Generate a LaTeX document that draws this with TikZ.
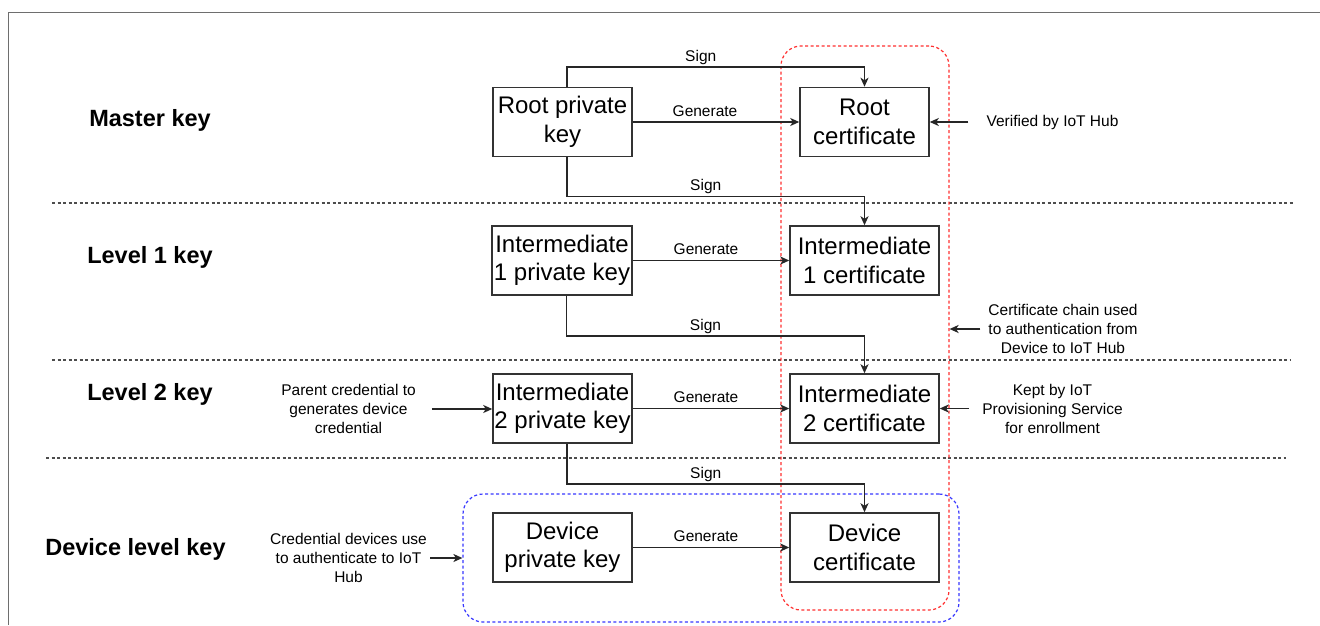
\documentclass[tikz,border=0pt]{standalone}
\usepackage{fontspec}
\setmainfont{Liberation Sans}
\usetikzlibrary{arrows.meta}
\definecolor{boxline}{HTML}{333333}
\definecolor{arrline}{HTML}{262626}
\definecolor{sepline}{HTML}{4D4D4D}
\definecolor{framegray}{HTML}{6E6E6E}
\definecolor{chainred}{HTML}{FF3030}
\definecolor{devblue}{HTML}{3838FF}
\begin{document}
\begin{tikzpicture}[x=1pt,y=-1pt,
  keybox/.style={draw=boxline, line width=1.5pt, fill=white, minimum height=69pt,
    align=center, inner sep=0pt, font=\fontsize{24}{28.5}\selectfont},
  head/.style={font=\fontsize{23.5}{28}\selectfont\bfseries, inner sep=0pt},
  lbl/.style={font=\fontsize{15.5}{19}\selectfont, inner sep=1.5pt, text height=11pt, text depth=3.5pt},
  note/.style={font=\fontsize{15.5}{19}\selectfont, align=center, inner ysep=0pt},
  arr/.style={draw=arrline, line width=1.5pt, -{Stealth[length=9pt,width=8pt,inset=2.5pt]}},
  sepline/.style={draw=sepline, line width=1.2pt, dash pattern=on 3pt off 2.5pt},
  grp/.style={rounded corners=20pt, line width=1.2pt, dash pattern=on 3pt off 2.5pt, inner sep=0pt}
]
\useasboundingbox (0,0) rectangle (1320,625);
\fill[white] (0,0) rectangle (1320,625);
\draw[framegray, line width=1pt] (8,625) -- (8,12) -- (1320,12);

% separators
\draw[sepline] (52,203) -- (1293,203);
\draw[sepline] (52,360) -- (1291,360);
\draw[sepline] (46,458) -- (1286,458);

% level headings
\node[head] (hmaster) at (150,120.5) {Master key};
\node[head] (hl1) at (150,257.5) {Level 1 key};
\node[head] (hl2) at (150,394.5) {Level 2 key};
\node[head] (hdev) at (135.5,549.5) {Device level key};

% groups
\node[grp, draw=chainred, minimum width=168pt, minimum height=564pt] (chain) at (865,328) {};
\node[grp, draw=devblue, minimum width=496pt, minimum height=128pt] (devgrp) at (711,558) {};

% boxes
\node[keybox, minimum width=139pt] (rpk) at (562.5,122) {Root private\\key};
\node[keybox, minimum width=129pt] (rc) at (864.5,122) {Root\\certificate};
\node[keybox, minimum width=140pt] (i1k) at (562,260.5) {Intermediate\\1 private key};
\node[keybox, minimum width=149pt] (i1c) at (864.5,260.5) {Intermediate\\1 certificate};
\node[keybox, minimum width=139pt] (i2k) at (562.5,408.5) {Intermediate\\2 private key};
\node[keybox, minimum width=149pt] (i2c) at (864.5,408.5) {Intermediate\\2 certificate};
\node[keybox, minimum width=139pt] (dk) at (562.5,547.5) {Device\\private key};
\node[keybox, minimum width=149pt] (dc) at (864.5,547.5) {Device\\certificate};

% generate arrows
\draw[arr] (rpk.east) -- (rc.west) node[lbl, midway, above, xshift=-11pt] {Generate};
\draw[arr] (i1k.east) -- (i1c.west) node[lbl, midway, above, xshift=-5pt] {Generate};
\draw[arr] (i2k.east) -- (i2c.west) node[lbl, midway, above, xshift=-5pt] {Generate};
\draw[arr] (dk.east) -- (dc.west) node[lbl, midway, above, xshift=-5pt] {Generate};

% sign arrows
\draw[arr] ([xshift=4.5pt]rpk.north) -- ++(0,-20) -| (rc.north) node[lbl, pos=0.25, above, xshift=-15pt] {Sign};
\draw[arr] ([xshift=4.5pt]rpk.south) -- ++(0,39) -| (i1c.north) node[lbl, pos=0.25, above, xshift=-10pt] {Sign};
\draw[arr] ([xshift=4.5pt]i1k.south) -- ++(0,40) -| (i2c.north) node[lbl, pos=0.25, above, xshift=-10pt] {Sign};
\draw[arr] ([xshift=4.5pt]i2k.south) -- ++(0,40) -| (dc.north) node[lbl, pos=0.25, above, xshift=-10pt] {Sign};

% side notes
\node[note, inner xsep=18pt] (ver) at (1052.5,122) {Verified by IoT Hub};
\draw[arr] (ver.west) -- (ver.west -| rc.east);

\node[note, inner xsep=8pt] (chn) at (1063,329) {Certificate chain used\\to authentication from\\Device to IoT Hub};
\draw[arr] (chn.west) -- (chn.west -| chain.east);

\node[note, inner xsep=13pt] (kept) at (1052.5,408.5) {Kept by IoT\\Provisioning Service\\for enrollment};
\draw[arr] (kept.west) -- (kept.west -| i2c.east);

\node[note, inner xsep=16pt] (par) at (348.5,409) {Parent credential to\\generates device\\credential};
\draw[arr] (par.east) -- (par.east -| i2k.west);

\node[note, inner xsep=3pt] (cred) at (348.5,558) {Credential devices use\\to authenticate to IoT\\Hub};
\draw[arr] (cred.east) -- (cred.east -| devgrp.west);
\end{tikzpicture}
\end{document}
